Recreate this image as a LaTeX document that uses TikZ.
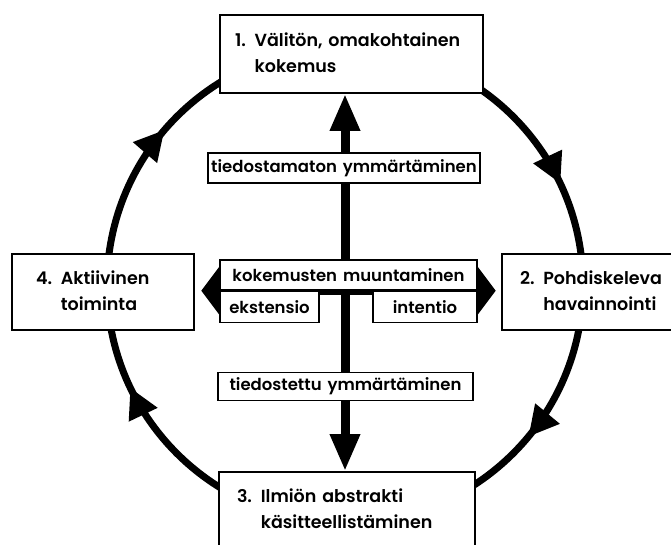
\documentclass[tikz,border=0pt]{standalone}
\usepackage{fontspec}
\setmainfont{Poppins}[BoldFont={Poppins SemiBold},WordSpace=1.5]
\usetikzlibrary{positioning,arrows.meta,decorations.markings,backgrounds}

\begin{document}
\begin{tikzpicture}[x=1pt,y=1pt,
  stage/.style={rectangle,draw,line width=1.6pt,fill=white,align=left,inner xsep=15pt,font=\fontsize{17.5}{26}\selectfont\bfseries},
  lbl/.style={rectangle,draw,line width=1.4pt,fill=white,inner sep=0pt,font=\fontsize{16.5}{20}\selectfont\bfseries},
  ring/.style={line width=7pt,postaction={decorate},decoration={markings,
    mark=at position 0.110 with {\arrow{Triangle[length=30pt,width=30pt]}},
    mark=at position 0.429 with {\arrow{Triangle[length=30pt,width=30pt]}},
    mark=at position 0.613 with {\arrow{Triangle[length=30pt,width=30pt]}},
    mark=at position 0.930 with {\arrow{Triangle[length=30pt,width=30pt]}}}},
  vArrow/.style={line width=9pt,{Triangle[length=37pt,width=28pt]}-{Triangle[length=37pt,width=28pt]}},
  hArrow/.style={line width=9pt,-{Triangle[length=18pt,width=47pt]}}]

  \useasboundingbox (0,0) rectangle (671,545);
  \coordinate (c) at (345,260);

  % Stufen
  \node[stage,text width=233pt,minimum height=78pt] (s1) at (351.5,491)
    {\begin{tabular}{@{}l@{ }l@{}}1. & Välitön, omakohtainen\\ & kokemus\end{tabular}};
  \node[stage,inner xsep=18pt,text width=152pt,minimum height=76pt] (s2) at (596,253)
    {\begin{tabular}{@{}l@{ }l@{}}2. & Pohdiskeleva\\ & havainnointi\end{tabular}};
  \node[stage,inner xsep=18pt,text width=220pt,minimum height=76pt] (s3) at (347,35)
    {\begin{tabular}{@{}l@{ }l@{}}3. & Ilmiön abstrakti\\ & käsitteellistäminen\end{tabular}};
  \node[stage,inner xsep=24pt,text width=134pt,minimum height=76pt] (s4) at (103,253)
    {\begin{tabular}{@{}l@{ }l@{}}4. & Aktiivinen\\ & toiminta\end{tabular}};

  % Mitte
  \node[lbl,minimum width=272pt,minimum height=30pt] (tu) at (344,377) {tiedostamaton ymmärtäminen};
  \node[lbl,minimum width=257pt,minimum height=30pt] (km) at (348.5,270) {kokemusten muuntaminen};
  \node[lbl,minimum width=99pt,minimum height=31pt] (ek) [below=0pt of km.south west,anchor=north west] {ekstensio};
  \node[lbl,minimum width=104pt,minimum height=31pt] (in) [below=0pt of km.south east,anchor=north east] {intentio};
  \node[lbl,minimum width=255pt,minimum height=28pt] (te) at (345.5,158.5) {tiedostettu ymmärtäminen};

  \coordinate[left=18pt of km.south west] (hl);
  \coordinate[right=18pt of km.south east] (hr);

  \begin{pgfonlayer}{background}
    \draw[ring] ([shift={(0:238)}]c) arc[start angle=0,end angle=-360,radius=238];
    \draw[vArrow] (c |- s3.north) -- (c |- s1.south);
    \draw[hArrow] (km.south) -- (hl);
    \draw[hArrow] (km.south) -- (hr);
  \end{pgfonlayer}

\end{tikzpicture}
\end{document}
